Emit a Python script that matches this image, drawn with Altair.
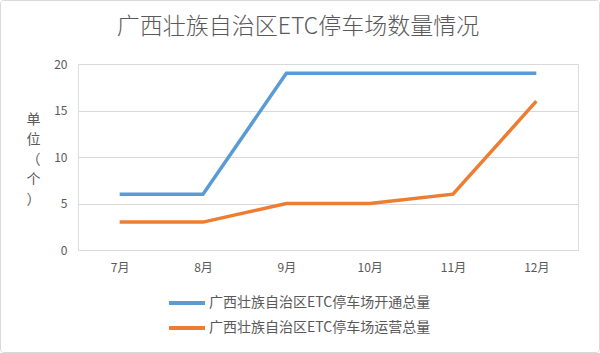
import altair as alt
import pandas as pd

title_text = "广西壮族自治区ETC停车场数量情况"
months = ["7月", "8月", "9月", "10月", "11月", "12月"]
series_open = "广西壮族自治区ETC停车场开通总量"
series_run = "广西壮族自治区ETC停车场运营总量"
open_vals = [6, 6, 19, 19, 19, 19]
run_vals = [3, 3, 5, 5, 6, 16]

rows = []
for m, v in zip(months, open_vals):
    rows.append({"month": m, "series": series_open, "value": v})
for m, v in zip(months, run_vals):
    rows.append({"month": m, "series": series_run, "value": v})
df = pd.DataFrame(rows)

FONT = "Noto Sans CJK SC"
GRAY = "#595959"

lines = alt.Chart(df).mark_line(strokeWidth=3.5).encode(
    x=alt.X("month:N", sort=months, scale=alt.Scale(type="point", padding=0.5),
            axis=alt.Axis(title=None, labelAngle=0, ticks=False, domain=False,
                          labelPadding=12, labelFontSize=12, labelColor=GRAY,
                          labelFont=FONT, grid=False)),
    y=alt.Y("value:Q", scale=alt.Scale(domain=[0, 20]),
            axis=alt.Axis(values=[0, 5, 10, 15, 20], ticks=False, domain=False,
                          labelPadding=11, labelFontSize=12, labelColor=GRAY,
                          labelFont=FONT, gridColor="#d9d9d9",
                          title=["单", "位", "（", "个", "）"], titleAngle=0,
                          titleX=-45, titleY=48, titleAlign="center",
                          titleBaseline="top", titleLineHeight=20,
                          titleFontSize=14, titleFontWeight="normal",
                          titleColor=GRAY, titleFont=FONT)),
    color=alt.Color("series:N",
                    scale=alt.Scale(domain=[series_open, series_run],
                                    range=["#5B9BD5", "#ED7D31"]),
                    legend=alt.Legend(title=None, orient="none", legendX=101,
                                      legendY=231, symbolType="M-3,0H3",
                                      symbolSize=144, symbolStrokeWidth=4,
                                      labelFontSize=14, labelColor=GRAY,
                                      labelFont=FONT, rowPadding=9,
                                      labelOffset=14, labelLimit=400)),
)

border = alt.Chart(pd.DataFrame({"a": [0]})).mark_rect(
    fill=None, stroke="#d9d9d9", strokeWidth=1, cornerRadius=3
).encode(x=alt.value(-77.5), x2=alt.value(521.5), y=alt.value(-63.5), y2=alt.value(288.5))

title = alt.Chart(pd.DataFrame({"t": [title_text]})).mark_text(
    fontSize=23, font=FONT, color=GRAY, align="center", baseline="middle",
    fontWeight=300
).encode(text="t:N", x=alt.value(220), y=alt.value(-37))

chart = alt.layer(border, lines, title).properties(
    width=500, height=186,
    padding={"left": 78, "top": 64, "right": 22, "bottom": 103},
    autosize=alt.AutoSizeParams(type="none"),
).configure_view(stroke=None).configure(background="white")

chart.save("out.html", embed_options={"renderer": "svg", "actions": False})
